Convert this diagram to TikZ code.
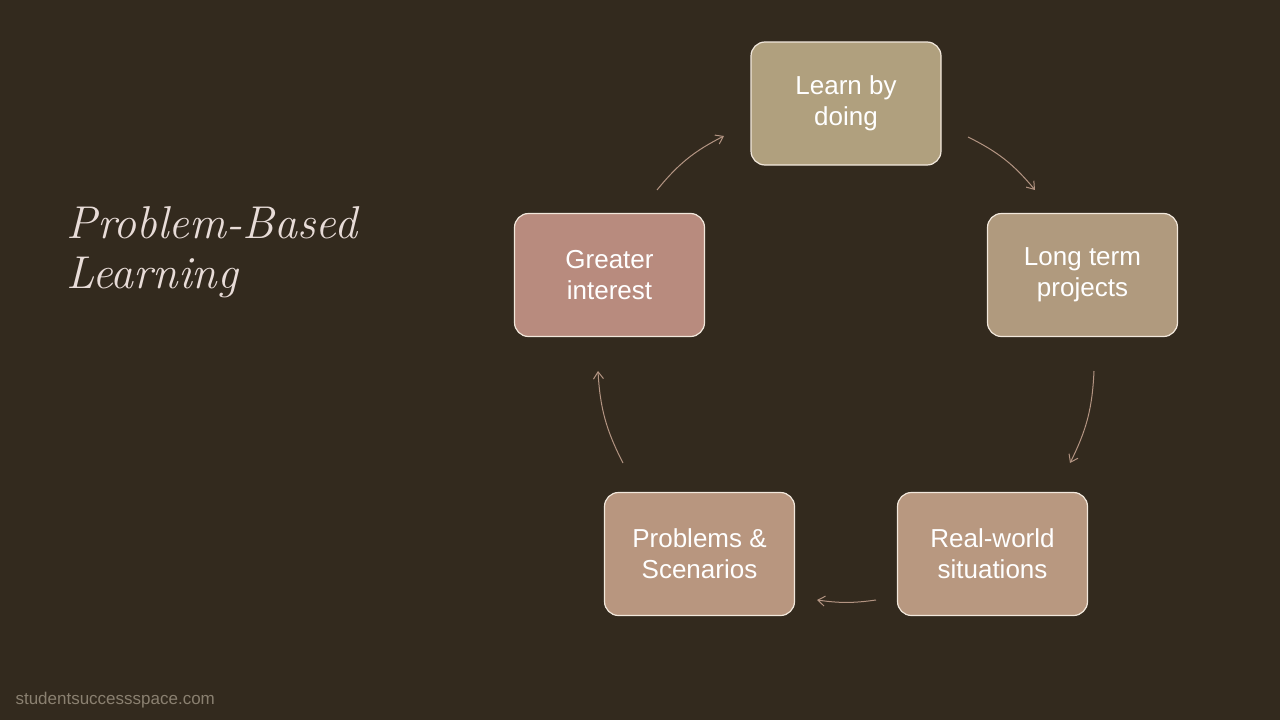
\documentclass[tikz,border=0pt]{standalone}
\usepackage{fontspec}
\setsansfont{Liberation Sans}
\usetikzlibrary{positioning,arrows.meta}
\definecolor{bg}{HTML}{332A1E}
\definecolor{edgec}{HTML}{F2E8DC}
\definecolor{arrowc}{HTML}{B39482}
\begin{document}
\begin{tikzpicture}[x=1pt,y=-1pt,
    stage/.style={draw=edgec,line width=1.2pt,rounded corners=14pt,minimum width=190pt,
      minimum height=123pt,align=center,text=white,font=\sffamily\fontsize{26}{31}\selectfont},
    flow/.style={-{Straight Barb[length=7pt,width=10pt]},draw=arrowc,line width=1pt}]
    \fill[bg] (0,0) rectangle (1280,720);
    \useasboundingbox (0,0) rectangle (1280,720);
    \node[stage,fill={rgb,255:red,176;green,160;blue,126}] (learn) at (846,103.5) {Learn by\\doing};
    \node[stage,fill={rgb,255:red,176;green,154;blue,126}] (long)  at (1082.5,275) {Long term\\projects};
    \node[stage,fill={rgb,255:red,184;green,152;blue,128}] (real)  at (992.5,554) {Real-world\\situations};
    \node[stage,fill={rgb,255:red,184;green,150;blue,127}] (prob)  at (699.5,554) {Problems \&\\Scenarios};
    \node[stage,fill={rgb,255:red,184;green,139;blue,126}] (great) at (609.5,275) {Greater\\interest};
    \node[anchor=base west,align=left,text={rgb,255:red,232;green,220;blue,216},
      font=\itshape\fontsize{46}{50}\selectfont] (title) at (63,288) {Problem-Based\\Learning};
    \node[anchor=base west,text={rgb,255:red,138;green,128;blue,112},
      font=\sffamily\fontsize{17}{20}\selectfont] (site) at (12,704) {studentsuccessspace.com};
    % arrow ends
    \coordinate (a1) at (657,190); \coordinate (b1) at (724,136);
    \coordinate (a2) at (968,137); \coordinate (b2) at (1035,190);
    \coordinate (a3) at (1094,371); \coordinate (b3) at (1070,463);
    \coordinate (a4) at (876,600); \coordinate (b4) at (817,600);
    \coordinate (a5) at (623,463); \coordinate (b5) at (598,371);
    \draw[flow] (a1) to[bend left=12] (b1);
    \draw[flow] (a2) to[bend left=12] (b2);
    \draw[flow] (a3) to[bend left=12] (b3);
    \draw[flow] (a4) to[bend left=8] (b4);
    \draw[flow] (a5) to[bend left=12] (b5);
\end{tikzpicture}
\end{document}
